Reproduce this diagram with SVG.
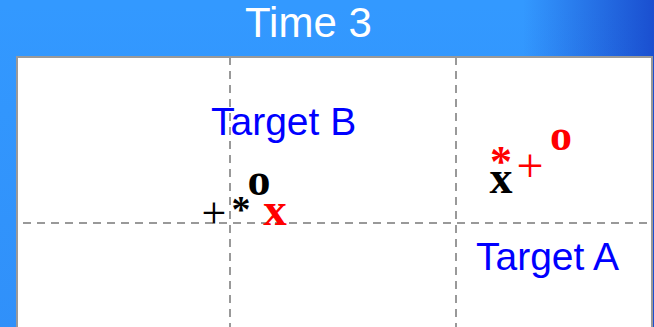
<svg xmlns="http://www.w3.org/2000/svg" width="654" height="327" viewBox="0 0 654 327">
  <defs>
    <linearGradient id="bgH" x1="0" y1="0" x2="1" y2="0">
      <stop offset="0" stop-color="#3399ff"/>
      <stop offset="0.8" stop-color="#3399ff"/>
      <stop offset="1" stop-color="#1a4fd0"/>
    </linearGradient>
    <linearGradient id="bgV" x1="0" y1="0" x2="0" y2="1">
      <stop offset="0" stop-color="#1a4fd0" stop-opacity="0"/>
      <stop offset="1" stop-color="#1a4fd0" stop-opacity="0.12"/>
    </linearGradient>
    <style>
      .title { font-family: "Liberation Sans", Arial, sans-serif; font-size: 42px; fill: #ffffff; }
      .label { font-family: "Liberation Sans", Arial, sans-serif; font-size: 39px; fill: #0000ff; }
      .grid line { stroke: #999999; stroke-width: 2; stroke-dasharray: 8 6; }
      .mk { font-family: "Liberation Serif", "Times New Roman", serif; text-anchor: middle; }
      .bold { font-weight: bold; }
      .black { fill: #000000; }
      .red { fill: #ff0000; }
    </style>
  </defs>

  <rect x="0" y="0" width="654" height="327" fill="url(#bgH)"/>
  <rect x="0" y="0" width="654" height="327" fill="url(#bgV)"/>
  <text class="title" x="245" y="37">Time 3</text>

  <rect x="17" y="57" width="635" height="290" fill="#ffffff" stroke="#999999" stroke-width="2"/>

  <g id="grid" class="grid">
    <line x1="23" y1="223" x2="648" y2="223"/>
    <line x1="230" y1="57" x2="230" y2="327"/>
    <line x1="456" y1="57" x2="456" y2="327"/>
  </g>

  <g id="target-b">
    <text class="label" x="211" y="135">Target B</text>
    <text class="mk black" x="214" y="228" font-size="44">+</text>
    <text class="mk black bold" x="241" y="222" font-size="38">*</text>
    <text class="mk black bold" x="259" y="195" font-size="46">o</text>
    <text class="mk red bold" x="275" y="225" font-size="47">x</text>
  </g>

  <g id="target-a">
    <text class="label" x="476" y="270">Target A</text>
    <text class="mk red bold" x="561" y="150" font-size="44">o</text>
    <text class="mk red bold" x="501" y="176" font-size="44">*</text>
    <text class="mk red" x="530" y="182" font-size="48">+</text>
    <text class="mk black bold" x="501" y="193" font-size="46">x</text>
  </g>
</svg>
